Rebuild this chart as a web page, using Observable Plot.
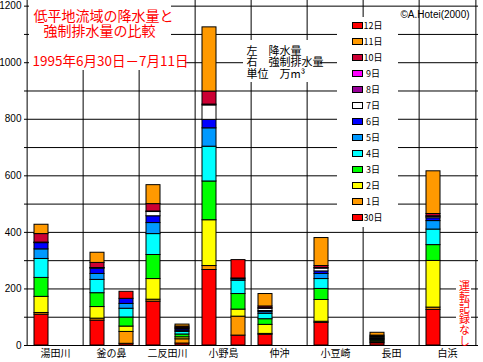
<!DOCTYPE html>
<html>
<head>
<meta charset="utf-8">
<script src="https://cdn.jsdelivr.net/npm/d3@7"></script>
<script src="https://cdn.jsdelivr.net/npm/@observablehq/plot@0.6"></script>
<style>
  body { margin: 0; background: #fff; }
  #chart svg { display: block; }
</style>
</head>
<body>
<div id="chart"></div>
<script>
// ---- data ----
const sites = ["湯田川", "釜の鼻", "二反田川", "小野島", "仲沖", "小豆崎", "長田", "白浜"];
const days = ["30日", "1日", "2日", "3日", "4日", "5日", "6日", "7日", "8日", "9日", "10日", "11日", "12日"];
const dayColors = ["#ff0000", "#ff9900", "#ffff00", "#00ff00", "#00ffff", "#0099ff", "#0000ff", "#ffffff", "#990099", "#ff00ff", "#cc0033", "#ff9900", "#ff0000"];

// rainfall (左 降水量), 万m3, per site, in day order 30日..12日
const rainfall = [
  [109, 6, 57, 67, 67, 34, 22, 1, 1, 0, 30, 33, 0],
  [88, 7, 41, 49, 47, 21, 19, 1, 1, 0, 18, 36, 0],
  [155, 7, 73, 85, 74, 39, 24, 15, 2, 0, 26, 67, 0],
  [267, 14, 162, 137, 123, 65, 30, 51, 3, 0, 46, 227, 0],
  [38, 3, 32, 20, 19, 6, 4, 8, 2, 0, 6, 44, 0],
  [80, 4, 77, 39, 35, 18, 9, 10, 2, 0, 7, 99, 0],
  [8, 3, 4, 4, 2, 2, 4, 2, 3, 0, 3, 10, 0],
  [126, 8, 165, 56, 55, 30, 10, 5, 2, 0, 8, 151, 0]
];
// forced drainage (右 強制排水量), 万m3
const drainage = [
  [0, 0, 0, 0, 0, 0, 0, 0, 0, 0, 0, 0, 0],
  [6, 42, 19, 32, 31, 17, 18, 0, 0, 0, 0, 0, 25],
  [7, 15, 7, 10, 9, 4, 5, 3, 3, 0, 4, 7, 0],
  [35, 67, 25, 55, 47, 5, 3, 0, 0, 0, 0, 0, 65],
  [0, 0, 0, 0, 0, 0, 0, 0, 0, 0, 0, 0, 0],
  [0, 0, 0, 0, 0, 0, 0, 0, 0, 0, 0, 0, 0],
  [0, 0, 0, 0, 0, 0, 0, 0, 0, 0, 0, 0, 0],
  [0, 0, 0, 0, 0, 0, 0, 0, 0, 0, 0, 0, 0]
];
const yLabelTicks = [0, 200, 400, 600, 800, 1000, 1200];
const yGridTicks = [0, 100, 200, 300, 400, 500, 600, 700, 800, 900, 1000, 1100, 1200];

const titleLines = ["低平地流域の降水量と", "強制排水量の比較", "1995年6月30日－7月11日"];
const noteText = "左　降水量\n右　強制排水量\n単位　万m³";
const copyrightText = "©A.Hotei(2000)";
const noRecordText = "運転記録なし";

// ---- build tables ----
const rainData = [], drainData = [];
sites.forEach((s, i) => days.forEach((d, j) => {
  if (rainfall[i][j] > 0) rainData.push({site: s, day: d, value: rainfall[i][j]});
  if (drainage[i][j] > 0) drainData.push({site: s, day: d, value: drainage[i][j]});
}));

const W = 483, H = 362, ML = 24, MR = 5, MT = 0, MB = 17;
const bw = (W - ML - MR) / sites.length;
const cjk = "'Noto Sans CJK JP', 'Noto Sans', sans-serif";

// white annotation boxes + legend (drawn in pixel space of the frame)
function decorations(index, scales, values, dimensions) {
  const g = d3.create("svg:g");
  const boxes = [[29, 0, 171, 70], [29, 52, 185, 70], [243, 40, 320, 82], [337, 17, 398, 227], [456, 272, 471, 345]];
  g.selectAll("rect.box").data(boxes).join("rect")
    .attr("x", b => b[0]).attr("y", b => b[1])
    .attr("width", b => b[2] - b[0]).attr("height", b => b[3] - b[1])
    .attr("fill", "white");
  const legendDays = days.map((d, i) => ({d, c: dayColors[i]})).reverse();
  const lg = g.append("g");
  legendDays.forEach((e, k) => {
    const cy = 26 + 16 * k;
    lg.append("rect").attr("x", 352.5).attr("y", cy - 3.5).attr("width", 10).attr("height", 6)
      .attr("fill", e.c).attr("stroke", "black");
    lg.append("text").attr("x", 373).attr("y", cy).attr("dy", "0.35em")
      .attr("font-size", 9).attr("font-family", cjk).attr("fill", "black").text(e.d);
  });
  return g.node();
}

const chart = Plot.plot({
  width: W, height: H,
  marginLeft: ML, marginRight: MR, marginTop: MT, marginBottom: MB,
  style: {fontFamily: cjk, background: "white", color: "black"},
  x: {type: "band", domain: sites, padding: 0, label: null},
  y: {domain: [0, 1220], label: null},
  color: {domain: days, range: dayColors},
  marks: [
    Plot.ruleY(yGridTicks, {stroke: "black"}),
    Plot.ruleX(sites, {x: d => d, dx: -bw / 2, stroke: "black"}),
    Plot.ruleX(sites.slice(-1), {x: d => d, dx: bw / 2, stroke: "black"}),
    Plot.barY(rainData, {x: "site", y: "value", fill: "day", stroke: "black", strokeWidth: 1, insetLeft: 7, insetRight: 35}),
    Plot.barY(drainData, {x: "site", y: "value", fill: "day", stroke: "black", strokeWidth: 1, insetLeft: 36, insetRight: 6}),
    Plot.axisY(yLabelTicks, {tickSize: 0, tickPadding: 3, fontSize: 10, tickFormat: d => String(d), fontFamily: "'Liberation Sans', Arial, sans-serif", label: null}),
    Plot.axisX({tickSize: 0, tickPadding: 4, fontSize: 10, label: null}),
    decorations,
    Plot.text([titleLines[0]], {text: d => d, frameAnchor: "top-left", dx: 9, dy: 16, textAnchor: "start", lineAnchor: "middle", fontSize: 14, fill: "red"}),
    Plot.text([titleLines[1]], {text: d => d, frameAnchor: "top-left", dx: 19, dy: 31, textAnchor: "start", lineAnchor: "middle", fontSize: 14, fill: "red"}),
    Plot.text([titleLines[2]], {text: d => d, frameAnchor: "top-left", dx: 8, dy: 61, textAnchor: "start", lineAnchor: "middle", fontSize: 13.5, fill: "red"}),
    Plot.text([noteText], {text: d => d, frameAnchor: "top-left", dx: 222, dy: 46, textAnchor: "start", lineAnchor: "top", fontSize: 11, lineHeight: 1.05, fill: "black"}),
    Plot.text([copyrightText], {text: d => d, frameAnchor: "top-left", dx: 376, dy: 14, textAnchor: "start", lineAnchor: "middle", fontSize: 10, fontFamily: "'Liberation Sans', Arial, sans-serif", fill: "black"}),
    Plot.text([noRecordText], {text: d => d, frameAnchor: "top-left", dx: 440, dy: 276, textAnchor: "start", lineAnchor: "middle", fontSize: 11, fill: "red"})
  ]
});
// render the "no record" note vertically (縦書き), glyphs upright
d3.select(chart).selectAll("text")
  .filter(function() { return this.textContent === noRecordText; })
  .attr("dy", null)
  .attr("text-anchor", "start")
  .style("writing-mode", "vertical-rl")
  .style("text-orientation", "upright")
  .style("glyph-orientation-vertical", "0");
document.getElementById("chart").appendChild(chart);
</script>
</body>
</html>
